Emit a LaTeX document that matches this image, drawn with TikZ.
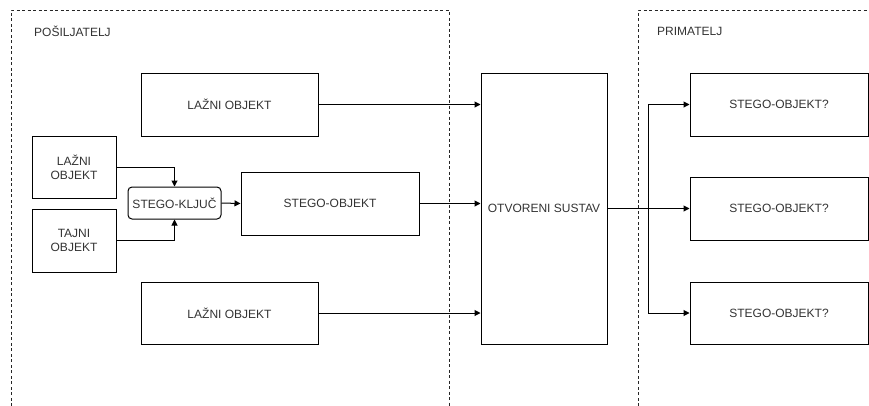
\documentclass[tikz,border=0pt]{standalone}
\usepackage{fontspec}
\setmainfont{Liberation Sans}
\usetikzlibrary{arrows.meta}
\definecolor{txt}{HTML}{333333}
\begin{document}
\begin{tikzpicture}[x=1pt,y=-1pt,
  box/.style={draw=black,line width=1pt,minimum width=#1,inner sep=0pt,text=txt,font=\fontsize{12}{14}\selectfont,align=center},
  conn/.style={line width=1pt,-{Triangle[length=6pt,width=6pt]}},
  cont/.style={line width=0.9pt,dash pattern=on 3pt off 2.5pt,draw=black!85},
  lbl/.style={anchor=west,text=txt,font=\fontsize{12}{14}\selectfont,inner sep=0pt}]
\useasboundingbox (0,0) rectangle (869,405);
% containers
\draw[cont] (11,406) -- (11,10) -- (449,10) -- (449,406);
\draw[cont] (638,406) -- (638,10) -- (871,10);
\node[lbl] (snd) at (34,31) {POŠILJATELJ};
\node[lbl] (rcv) at (657,31) {PRIMATELJ};
% nodes
\node[box=177pt,minimum height=63pt] (lz1) at (229.5,104.5) {LAŽNI OBJEKT};
\node[box=84pt,minimum height=62pt] (lz2) at (74,167) {LAŽNI\\OBJEKT};
\node[box=84pt,minimum height=63pt] (taj) at (74,240.5) {TAJNI\\OBJEKT};
\node[box=93pt,minimum height=32pt,rounded corners=4pt] (key) at (174.5,203) {STEGO-KLJUČ};
\node[box=178pt,minimum height=63pt] (so) at (330,203.5) {STEGO-OBJEKT};
\node[box=177pt,minimum height=62pt] (lz3) at (229.5,313) {LAŽNI OBJEKT};
\node[box=126pt,minimum height=271pt] (os) at (544,208.5) {OTVORENI SUSTAV};
\node[box=178pt,minimum height=63pt] (r1) at (779,104.5) {STEGO-OBJEKT?};
\node[box=178pt,minimum height=63pt] (r2) at (779,208.5) {STEGO-OBJEKT?};
\node[box=178pt,minimum height=62pt] (r3) at (779,313) {STEGO-OBJEKT?};
\coordinate (br) at (648,208.5);
% connectors
\draw[conn] (lz2.east) -| (key.north);
\draw[conn] (taj.east) -| (key.south);
\draw[conn] (key.east) -- (so.west);
\draw[conn] (lz1.east) -- (lz1.east -| os.west);
\draw[conn] (so.east) -- (so.east -| os.west);
\draw[conn] (lz3.east) -- (lz3.east -| os.west);
\draw[conn] (os.east |- r2.west) -- (r2.west);
\draw[conn] (br |- r3.west) -- (br |- r1.west) -- (r1.west);
\draw[conn] (br |- r1.west) -- (br |- r3.west) -- (r3.west);
\end{tikzpicture}
\end{document}
